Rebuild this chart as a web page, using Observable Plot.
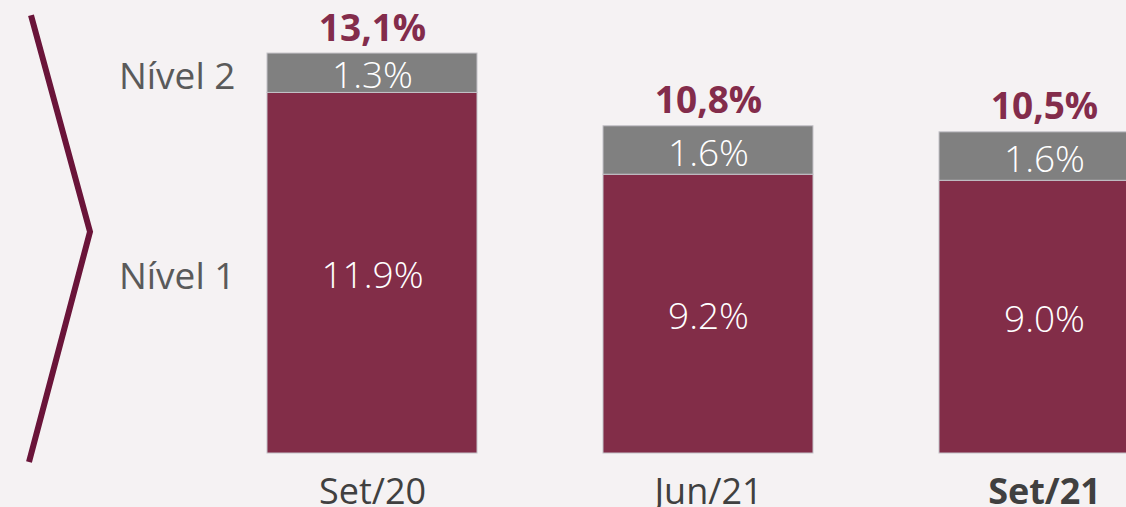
<!DOCTYPE html>
<html>
<head>
<meta charset="utf-8">
<script src="https://cdn.jsdelivr.net/npm/d3@7"></script>
<script src="https://cdn.jsdelivr.net/npm/@observablehq/plot@0.6"></script>
<style>
  html, body { margin: 0; padding: 0; background: #f5f2f3; overflow: hidden; }
  #chart svg { display: block; }
</style>
</head>
<body>
<div id="chart"></div>
<script>
const categories = ["Set/20", "Jun/21", "Set/21"];
const boldCategory = "Set/21";
const levels = ["Nível 1", "Nível 2"];
const nivel1 = [11.9, 9.2, 9.0];
const nivel2 = [1.3, 1.6, 1.6];
const totalLabels = ["13,1%", "10,8%", "10,5%"];
const segLabels1 = ["11.9%", "9.2%", "9.0%"];
const segLabels2 = ["1.3%", "1.6%", "1.6%"];

const rows = [];
categories.forEach((c, i) => {
  rows.push({cat: c, level: levels[0], y1: 0, y2: nivel1[i], label: segLabels1[i]});
  rows.push({cat: c, level: levels[1], y1: nivel1[i], y2: nivel1[i] + nivel2[i], label: segLabels2[i]});
});
const totals = categories.map((c, i) => ({cat: c, total: nivel1[i] + nivel2[i], label: totalLabels[i]}));
const firstRows = rows.filter(r => r.cat === categories[0]);

const FONT = "'Open Sans', 'Noto Sans', sans-serif";
const pxPerUnit = 30.3;
const base = 453;

function bracket(index, scales) {
  const path = d3.create("svg:path")
    .attr("d", d3.line()([[31, scales.y(14.45)], [90, scales.y(7.3)], [29, scales.y(-0.3)]]))
    .attr("fill", "none")
    .attr("stroke", "#6a1439")
    .attr("stroke-width", 6);
  return path.node();
}

const chart = Plot.plot({
  width: 1126,
  height: 507,
  style: {background: "#f5f2f3", fontFamily: FONT},
  x: {domain: categories, range: [204, 1212], paddingInner: 0.375, paddingOuter: 0.1875, axis: null},
  y: {domain: [0, 14], range: [base, base - 14 * pxPerUnit], axis: null},
  color: {domain: levels, range: ["#822d48", "#808080"]},
  marks: [
    Plot.rectY(rows, {x: "cat", y1: "y1", y2: "y2", fill: "level", stroke: "#c4c2c8", strokeWidth: 1}),
    Plot.text(rows, {x: "cat", y: d => (d.y1 + d.y2) / 2, text: "label", fill: "white",
      fontSize: 37, fontWeight: 300, lineAnchor: "bottom", dy: 15}),
    Plot.text(totals, {x: "cat", y: "total", text: "label", fill: "#832c4b",
      fontSize: 37, fontWeight: 700, lineAnchor: "bottom", dy: -13}),
    Plot.text(categories.filter(d => d !== boldCategory), {x: d => d, y: 0, text: d => d, fill: "#404040",
      fontSize: 36, fontWeight: 400, lineAnchor: "bottom", dy: 50}),
    Plot.text(categories.filter(d => d === boldCategory), {x: d => d, y: 0, text: d => d, fill: "#404040",
      fontSize: 36, fontWeight: 700, lineAnchor: "bottom", dy: 50}),
    Plot.text(firstRows, {x: "cat", y: d => (d.y1 + d.y2) / 2, text: "level", fill: "#5a5a5a",
      fontSize: 37, textAnchor: "end", lineAnchor: "bottom", dy: 16, dx: -137}),
    bracket
  ]
});
document.getElementById("chart").appendChild(chart);
</script>
</body>
</html>
